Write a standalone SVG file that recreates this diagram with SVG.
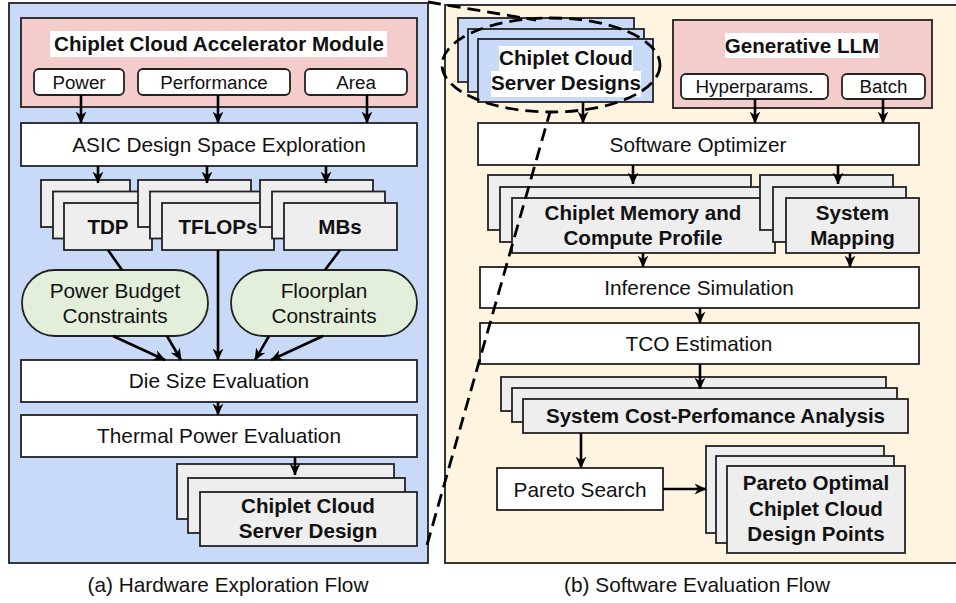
<svg xmlns="http://www.w3.org/2000/svg" width="956" height="603" viewBox="0 0 956 603">
<style>
text{font-family:"Liberation Sans",Arial,sans-serif;fill:#111;text-anchor:middle}
.r{font-size:20.8px}
.p{font-size:18.8px}
.b{font-size:20.6px;font-weight:bold}
.box{fill:#fff;stroke:#222;stroke-width:1.8}
.g{fill:#eeeeee;stroke:#222;stroke-width:1.8}
.bl{fill:#c9daf8;stroke:#222;stroke-width:1.8}
.pk{fill:#f4cccc;stroke:#222;stroke-width:1.8}
.gr{fill:#e3eedb;stroke:#222;stroke-width:1.8}
.wb{fill:#fff}
.c{stroke:#000;stroke-width:2.6;fill:none}
.ca{stroke:#000;stroke-width:2.6;fill:none;marker-end:url(#ah)}
.d{stroke:#000;stroke-width:2.8;fill:none;stroke-dasharray:13 7}
</style>
<defs>
<marker id="ah" viewBox="0 0 10 10" refX="9.5" refY="5" markerWidth="12" markerHeight="12" markerUnits="userSpaceOnUse" orient="auto">
<path d="M0,0.5 L10,5 L0,9.5 L3,5 z" fill="#000"/>
</marker>
</defs>
<rect width="956" height="603" fill="#fff"/>
<!-- panels -->
<g id="panel-a"><rect x="9" y="3" width="419" height="560" class="bl"/></g>
<g id="panel-b"><rect x="445" y="5" width="530" height="558" fill="#fff4e0" stroke="#222" stroke-width="1.8"/></g>

<!-- Left panel -->
<g id="accel-module">
<rect x="21" y="18" width="396" height="89" class="pk"/>
<rect x="50" y="31" width="337" height="26" class="wb"/>
<text x="219" y="50.5" class="b">Chiplet Cloud Accelerator Module</text>
</g>
<g id="power"><rect x="34" y="69" width="90" height="26" rx="5" class="box"/><text x="79" y="89" class="p">Power</text></g>
<g id="performance"><rect x="138" y="69" width="152" height="26" rx="5" class="box"/><text x="214" y="89" class="p">Performance</text></g>
<g id="area"><rect x="305" y="69" width="102" height="26" rx="5" class="box"/><text x="356" y="89" class="p">Area</text></g>
<g id="asic-dse"><rect x="21" y="123" width="396" height="43" class="box"/><text x="219" y="151.7" class="r">ASIC Design Space Exploration</text></g>
<g id="tdp">
<rect x="41" y="180" width="89" height="47" class="g"/>
<rect x="53" y="191.5" width="89" height="47" class="g"/>
<rect x="64" y="203" width="88" height="47" class="g"/>
<text x="108" y="233.5" class="b">TDP</text>
</g>
<g id="tflops">
<rect x="138" y="180" width="113" height="47" class="g"/>
<rect x="150" y="191.5" width="113" height="47" class="g"/>
<rect x="162" y="203" width="112" height="47" class="g"/>
<text x="218" y="233.5" class="b">TFLOPs</text>
</g>
<g id="mbs">
<rect x="260" y="180" width="113" height="47" class="g"/>
<rect x="272" y="191.5" width="113" height="47" class="g"/>
<rect x="284" y="203" width="113" height="47" class="g"/>
<text x="340" y="233.5" class="b">MBs</text>
</g>
<g id="power-budget"><rect x="22" y="270" width="186" height="66" rx="33" class="gr"/><text x="115" y="298.3" class="r">Power Budget</text><text x="115" y="322.7" class="r">Constraints</text></g>
<g id="floorplan"><rect x="231" y="270" width="186" height="66" rx="33" class="gr"/><text x="324" y="298.3" class="r">Floorplan</text><text x="324" y="322.7" class="r">Constraints</text></g>
<g id="die-size"><rect x="21" y="360" width="396" height="42" class="box"/><text x="219" y="387.5" class="r">Die Size Evaluation</text></g>
<g id="thermal"><rect x="21" y="415" width="396" height="42" class="box"/><text x="219" y="442.5" class="r">Thermal Power Evaluation</text></g>
<g id="server-design">
<rect x="177" y="464" width="217" height="55" class="g"/>
<rect x="188" y="478" width="217" height="55" class="g"/>
<rect x="200" y="492" width="217" height="54" class="g"/>
<text x="308" y="512.7" class="b">Chiplet Cloud</text>
<text x="308" y="538.3" class="b">Server Design</text>
</g>
<text x="228" y="592.3" class="r">(a) Hardware Exploration Flow</text>

<!-- Right panel -->
<g id="server-designs">
<rect x="458" y="18" width="176" height="64" class="bl"/>
<rect x="468" y="29" width="176" height="63" class="bl"/>
<rect x="478" y="39" width="175" height="63" class="bl"/>
<rect x="499" y="46" width="134" height="26" class="wb"/>
<rect x="491" y="71" width="150" height="26" class="wb"/>
<text x="566" y="65" class="b">Chiplet Cloud</text>
<text x="566" y="90" class="b">Server Designs</text>
</g>
<g id="gen-llm">
<rect x="673" y="20" width="259" height="88" class="pk"/>
<rect x="725" y="33" width="154" height="25" class="wb"/>
<text x="802" y="52.7" class="b">Generative LLM</text>
</g>
<g id="hyperparams"><rect x="681" y="74" width="147" height="25" rx="5" class="box"/><text x="754.5" y="93.3" class="p">Hyperparams.</text></g>
<g id="batch"><rect x="842" y="74" width="83" height="25" rx="5" class="box"/><text x="883.5" y="93.3" class="p">Batch</text></g>
<g id="sw-opt"><rect x="478" y="123" width="441" height="42" class="box"/><text x="698" y="151.7" class="r">Software Optimizer</text></g>
<g id="mem-profile">
<rect x="488" y="175" width="263" height="55" class="g"/>
<rect x="500" y="187" width="263" height="55" class="g"/>
<rect x="512" y="198" width="263" height="55" class="g"/>
<text x="643" y="220" class="b">Chiplet Memory and</text>
<text x="643" y="245" class="b">Compute Profile</text>
</g>
<g id="sys-mapping">
<rect x="760" y="175" width="133" height="55" class="g"/>
<rect x="773" y="187" width="133" height="55" class="g"/>
<rect x="786" y="198" width="133" height="55" class="g"/>
<text x="852.5" y="220" class="b">System</text>
<text x="852.5" y="245" class="b">Mapping</text>
</g>
<g id="inference"><rect x="480" y="267" width="439" height="41" class="box"/><text x="699" y="295" class="r">Inference Simulation</text></g>
<g id="tco"><rect x="480" y="323" width="439" height="41" class="box"/><text x="699" y="350.7" class="r">TCO Estimation</text></g>
<g id="cost-perf">
<rect x="501" y="377" width="385" height="34" class="g"/>
<rect x="512" y="388" width="385" height="34" class="g"/>
<rect x="523" y="399" width="385" height="34" class="g"/>
<text x="715.5" y="423.3" class="b">System Cost-Perfomance Analysis</text>
</g>
<g id="pareto-search"><rect x="497" y="468" width="166" height="42" class="box"/><text x="580" y="496.7" class="r">Pareto Search</text></g>
<g id="pareto-optimal">
<rect x="706" y="446" width="178" height="87" class="g"/>
<rect x="716" y="456" width="178" height="87" class="g"/>
<rect x="727" y="466" width="178" height="87" class="g"/>
<text x="816" y="490" class="b">Pareto Optimal</text>
<text x="816" y="515.7" class="b">Chiplet Cloud</text>
<text x="816" y="540.7" class="b">Design Points</text>
</g>
<text x="697" y="592.3" class="r">(b) Software Evaluation Flow</text>

<!-- connectors -->
<g id="connectors">
<line x1="81" y1="95" x2="81" y2="123" class="ca"/>
<line x1="218" y1="95" x2="218" y2="123" class="ca"/>
<line x1="367" y1="95" x2="367" y2="123" class="ca"/>
<line x1="98" y1="166" x2="98" y2="183" class="ca"/>
<line x1="207" y1="166" x2="207" y2="183" class="ca"/>
<line x1="326" y1="166" x2="326" y2="183" class="ca"/>
<line x1="108" y1="250" x2="122" y2="270" class="c"/>
<line x1="340" y1="250" x2="325" y2="270" class="c"/>
<line x1="218" y1="250" x2="218" y2="360" class="ca"/>
<line x1="113" y1="336" x2="165" y2="360" class="ca"/>
<line x1="167" y1="336" x2="181" y2="360" class="ca"/>
<line x1="323" y1="336" x2="271" y2="360" class="ca"/>
<line x1="269" y1="336" x2="255" y2="360" class="ca"/>
<line x1="218" y1="402" x2="218" y2="415" class="ca"/>
<line x1="295" y1="457" x2="295" y2="475" class="ca"/>
<line x1="583" y1="102" x2="583" y2="123" class="ca"/>
<line x1="755" y1="99" x2="755" y2="123" class="ca"/>
<line x1="883" y1="99" x2="883" y2="123" class="ca"/>
<line x1="633" y1="165" x2="633" y2="184" class="ca"/>
<line x1="838" y1="165" x2="838" y2="184" class="ca"/>
<line x1="643" y1="253" x2="643" y2="267" class="ca"/>
<line x1="850" y1="253" x2="850" y2="267" class="ca"/>
<line x1="700" y1="308" x2="700" y2="323" class="ca"/>
<line x1="700" y1="364" x2="700" y2="389" class="ca"/>
<line x1="581" y1="433" x2="581" y2="468" class="ca"/>
<line x1="663" y1="489" x2="706" y2="489" class="ca"/>
</g>
<g id="zoom-callout">
<ellipse cx="551" cy="65" rx="109" ry="47" class="d"/>
<line x1="428" y1="2" x2="536" y2="20" class="d"/>
<line x1="427" y1="545" x2="550" y2="112" class="d"/>
</g>
</svg>
